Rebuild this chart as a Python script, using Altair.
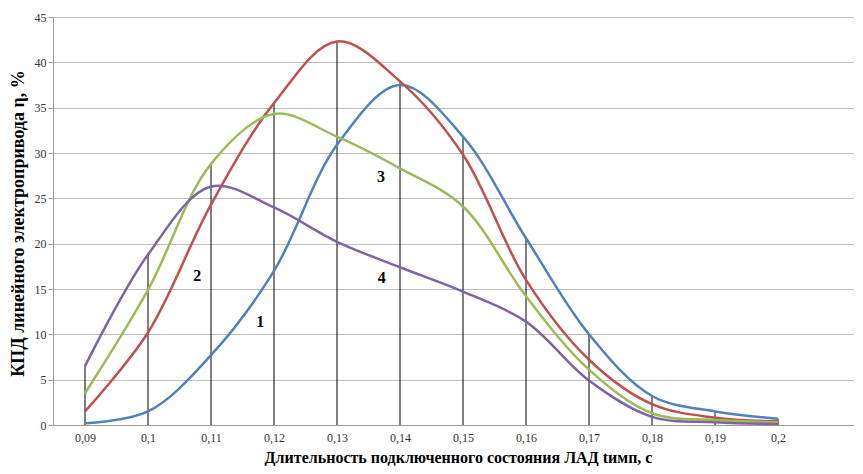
import altair as alt
import pandas as pd

x_vals = [0.09, 0.10, 0.11, 0.12, 0.13, 0.14, 0.15, 0.16, 0.17, 0.18, 0.19, 0.20]
s1 = [0.2, 1.5, 7.7, 17.0, 30.9, 37.5, 31.8, 20.6, 10.0, 3.2, 1.5, 0.7]
s2 = [1.5, 10.2, 24.3, 35.5, 42.3, 37.9, 29.8, 16.0, 7.2, 2.3, 0.8, 0.4]
s3 = [3.5, 14.9, 28.8, 34.3, 31.8, 28.3, 24.1, 14.2, 6.1, 1.3, 0.55, 0.3]
s4 = [6.5, 18.8, 26.3, 24.0, 20.2, 17.4, 14.7, 11.4, 4.9, 0.9, 0.3, 0.1]
series_names = ["1", "2", "3", "4"]
series_colors = ["#4F81BD", "#C0504D", "#9BBB59", "#8064A2"]

label_text = ["1", "2", "3", "4"]
label_x = [0.1178, 0.1078, 0.137, 0.1371]
label_y = [11.4, 16.4, 27.4, 16.2]

y_ticks = [0, 5, 10, 15, 20, 25, 30, 35, 40, 45]

rows = []
for name, vals in zip(series_names, [s1, s2, s3, s4]):
    for xv, v in zip(x_vals, vals):
        rows.append({"x": xv, "value": v, "series": name})
df = pd.DataFrame(rows)
labels_df = pd.DataFrame({"t": label_text, "x": label_x, "y": label_y})

FONT = "Liberation Serif"

x_scale = alt.Scale(domain=[0.08492, 0.21206], nice=False, zero=False)
y_scale = alt.Scale(domain=[0, 45], nice=False)

x_axis = alt.Axis(
    values=x_vals,
    labelExpr="replace(format(datum.value, '.2~f'), '.', ',')",
    grid=False, ticks=False, domainColor="#9a9a9a",
    labelFont=FONT, labelFontSize=12, labelColor="#333333", labelPadding=7,
    title="Длительность подключенного состояния ЛАД tимп, с",
    titleFont=FONT, titleFontSize=16, titleFontWeight="bold", titleColor="#000000",
    titleX=405, titleY=32, titleAlign="center", titleBaseline="middle",
)
y_axis = alt.Axis(
    values=y_ticks, grid=True, gridColor="#BEBEBE", gridWidth=1,
    ticks=True, tickSize=5, tickColor="#9a9a9a", domainColor="#9a9a9a",
    labelFont=FONT, labelFontSize=12, labelColor="#333333", labelPadding=2,
    title="КПД линейного электропривода η, %",
    titleFont=FONT, titleFontSize=18, titleFontWeight="bold", titleColor="#000000",
    titleX=-35, titleY=206, titleAngle=270, titleAlign="center", titleBaseline="middle",
)

base = alt.Chart(df)

drops = base.transform_aggregate(
    maxv="max(value)", groupby=["x"]
).mark_rule(color="#000000", strokeWidth=1).encode(
    x=alt.X("x:Q", scale=x_scale, axis=x_axis),
    y=alt.Y("maxv:Q", scale=y_scale, axis=y_axis),
    y2=alt.datum(0),
)

lines = base.mark_line(interpolate="catmull-rom", strokeWidth=2.5).encode(
    x=alt.X("x:Q", scale=x_scale),
    y=alt.Y("value:Q", scale=y_scale),
    color=alt.Color("series:N", scale=alt.Scale(domain=series_names, range=series_colors), legend=None),
    order=alt.Order("x:Q"),
)

texts = alt.Chart(labels_df).mark_text(
    font=FONT, fontSize=16, fontWeight="bold", color="#000000"
).encode(
    x=alt.X("x:Q", scale=x_scale),
    y=alt.Y("y:Q", scale=y_scale),
    text="t:N",
)

chart = alt.layer(drops, lines, texts).properties(
    width=801, height=408,
    autosize=alt.AutoSizeParams(type="none"),
    padding={"left": 45, "top": 9, "right": 0, "bottom": 41},
    background="white",
).configure_view(stroke=None)

chart.save("out.html", embed_options={"renderer": "svg", "actions": False})
